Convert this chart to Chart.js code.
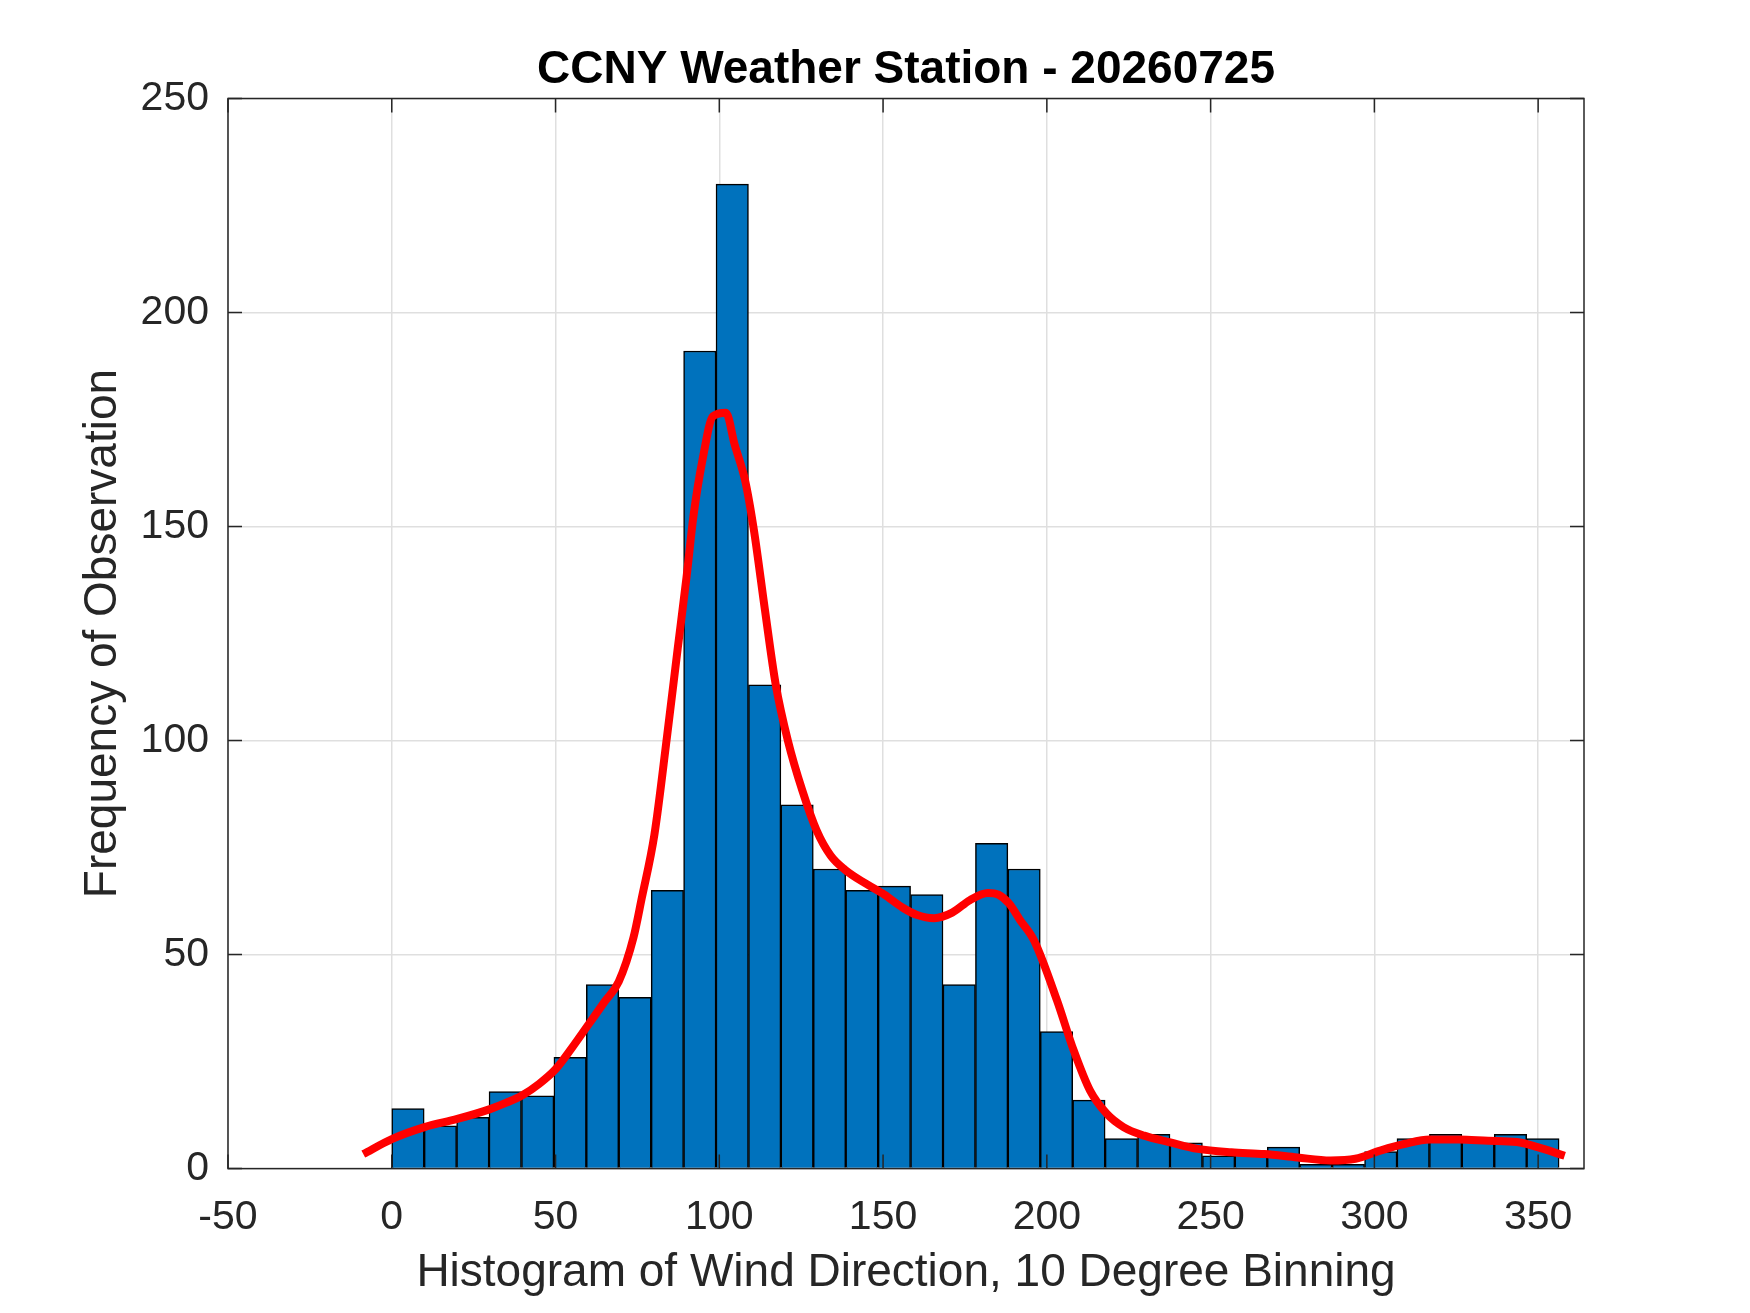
<!DOCTYPE html>
<html>
<head>
<meta charset="utf-8">
<title>CCNY Weather Station - 20260725</title>
<script src="https://cdn.jsdelivr.net/npm/chart.js@4.4.1/dist/chart.umd.min.js"></script>
<style>
  html, body { margin: 0; padding: 0; background: #fff; }
  #wrap { width: 1750px; height: 1313px; }
</style>
</head>
<body>
<div id="wrap"><canvas id="chart" width="1750" height="1313"></canvas></div>
<script>
// histogram of wind direction, 36 bins over the data range (about 9.9 deg wide)
const binCenters = [4.95, 14.85, 24.75, 34.65, 44.55, 54.45, 64.35, 74.25, 84.15, 94.05, 103.95, 113.85,
                    123.75, 133.65, 143.55, 153.45, 163.35, 173.25, 183.15, 193.05, 202.95, 212.85, 222.75, 232.65,
                    242.55, 252.45, 262.35, 272.25, 282.15, 292.05, 301.95, 311.85, 321.75, 331.65, 341.55, 351.45];
const counts = [14, 10, 12, 18, 17, 26, 43, 40, 65, 191, 230, 113, 85, 70, 65, 66, 64, 43,
                76, 70, 32, 16, 7, 8, 6, 3, 4, 5, 1, 1, 4, 7, 8, 7, 8, 7];

// smoothed density curve (red)
const kdeX = [-8.7, 0, 10, 20, 30, 35, 40, 45, 50, 55, 60, 65, 69.3, 73.8, 76.3, 80.2, 84, 87.3, 90,
              92.1, 94.9, 98.1, 102, 104.7, 107.9, 110.6, 113.9, 117.2, 121, 125.4, 129.7, 134, 138.4,
              144.9, 150.4, 155.9, 160.2, 165.6, 171.1, 176.5, 182, 185.2, 188.5, 191.8, 196.1, 203.1,
              208.2, 213.2, 218.3, 223.4, 229.7, 237.3, 246.1, 256.3, 266.4, 276.5, 286.6, 294.2, 301.8,
              309.4, 316.9, 325.8, 334.7, 343.5, 349.8, 358.1];
const kdeY = [3.4, 6.9, 9.7, 11.6, 13.9, 15.4, 17.2, 19.8, 23.2, 28.2, 33.6, 39, 43.7, 54, 63.1, 78.1, 100.7, 121.5, 138.2,
              152.4, 165.7, 175.8, 176.6, 169.1, 160.7, 149, 130.7, 113.2, 99.8, 88.2, 79, 73.1, 69.8,
              66.5, 64, 61, 59.3, 58.5, 59.8, 62.7, 64.4, 64, 61.9, 58.1, 53.3, 39.3,
              27.6, 18.2, 12.8, 9.7, 7.7, 6.2, 4.6, 3.8, 3.4, 2.6, 1.9, 2.3, 4.2,
              5.8, 6.8, 6.8, 6.5, 6.2, 5, 3];

const xTickStep = 50;
const yTickStep = 50;

Chart.defaults.font.family = '"Liberation Sans", Arial, Helvetica, sans-serif';
Chart.defaults.color = '#262626';

const TICK = 14;
const AXIS = '#262626';

// matlab style box with inward ticks, drawn over the data
const boxPlugin = {
  id: 'box',
  afterDatasetsDraw(chart) {
    const { ctx, chartArea: a, scales: { x, y } } = chart;
    ctx.save();
    ctx.strokeStyle = AXIS;
    ctx.lineWidth = 1.5;
    ctx.beginPath();
    x.ticks.forEach(t => {
      const px = x.getPixelForValue(t.value);
      ctx.moveTo(px, a.bottom); ctx.lineTo(px, a.bottom - TICK);
      ctx.moveTo(px, a.top); ctx.lineTo(px, a.top + TICK);
    });
    y.ticks.forEach(t => {
      const py = y.getPixelForValue(t.value);
      ctx.moveTo(a.left, py); ctx.lineTo(a.left + TICK, py);
      ctx.moveTo(a.right, py); ctx.lineTo(a.right - TICK, py);
    });
    ctx.stroke();
    ctx.strokeRect(a.left, a.top, a.right - a.left, a.bottom - a.top);
    ctx.restore();
  }
};

new Chart(document.getElementById('chart'), {
  type: 'bar',
  data: {
    datasets: [
      {
        type: 'line',
        data: kdeX.map((x, i) => ({ x, y: kdeY[i] })),
        borderColor: '#ff0000',
        borderWidth: 8,
        pointRadius: 0,
        fill: false,
        cubicInterpolationMode: 'monotone',
        borderCapStyle: 'butt',
        order: 0
      },
      {
        type: 'bar',
        data: binCenters.map((x, i) => ({ x, y: counts[i] })),
        backgroundColor: '#0072bd',
        borderColor: '#000000',
        borderWidth: 1.5,
        barPercentage: 1,
        categoryPercentage: 1,
        order: 1
      }
    ]
  },
  options: {
    responsive: false,
    devicePixelRatio: 1,
    animation: false,
    layout: { padding: { left: 0, right: 166, top: 0, bottom: 0 } },
    plugins: {
      legend: { display: false },
      tooltip: { enabled: false },
      title: {
        display: true,
        text: 'CCNY Weather Station - 20260725',
        fullSize: false,
        color: '#000000',
        font: { size: 46, weight: 'bold' },
        padding: { top: 43.2, bottom: 0.1 }
      }
    },
    scales: {
      x: {
        type: 'linear',
        min: -50,
        max: 364,
        offset: false,
        ticks: {
          stepSize: xTickStep,
          includeBounds: false,
          maxRotation: 0,
          autoSkip: false,
          padding: 24,
          font: { size: 41 },
          color: AXIS
        },
        grid: { color: '#dfdfdf', lineWidth: 1.5, drawTicks: false, offset: false },
        border: { display: false },
        title: {
          display: true,
          text: 'Histogram of Wind Direction, 10 Degree Binning',
          font: { size: 46 },
          color: AXIS,
          padding: { top: 0, bottom: 12 }
        },
        afterFit(s) { s.height = 144.4; }
      },
      y: {
        type: 'linear',
        min: 0,
        max: 250,
        ticks: {
          stepSize: yTickStep,
          padding: 19,
          font: { size: 41 },
          color: AXIS
        },
        grid: { color: '#dfdfdf', lineWidth: 1.5, drawTicks: false },
        border: { display: false },
        title: {
          display: true,
          text: 'Frequency of Observation',
          font: { size: 46 },
          color: AXIS,
          padding: { top: 76, bottom: 0 }
        },
        afterFit(s) { s.width = 228; }
      }
    }
  },
  plugins: [boxPlugin]
});
</script>
</body>
</html>
